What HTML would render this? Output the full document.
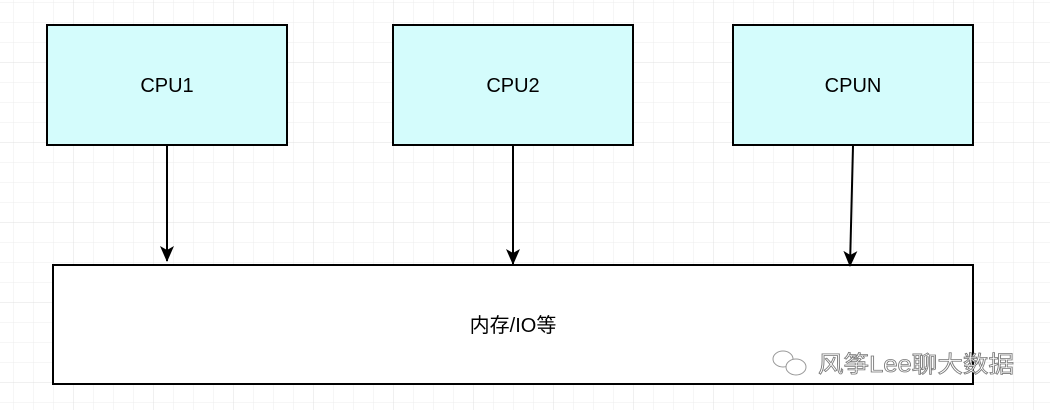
<!DOCTYPE html>
<html><head><meta charset="utf-8"><style>
html,body{margin:0;padding:0}
body{width:1050px;height:410px;overflow:hidden;background:#fff;font-family:"Liberation Sans","Noto Sans CJK SC",sans-serif}
</style></head><body>
<svg width="1050" height="410" xmlns="http://www.w3.org/2000/svg">
<defs>
<pattern id="g" x="13" y="2" width="20" height="20" patternUnits="userSpaceOnUse">
<path d="M0 0V20M0 0H20" stroke="#ececec" stroke-width="1" fill="none"/>
</pattern>
<pattern id="G" x="-7" y="-18" width="80" height="80" patternUnits="userSpaceOnUse">
<path d="M0 0V80M0 0H80" stroke="#e0e0e0" stroke-width="1" fill="none"/>
</pattern>
<marker id="a" markerWidth="16" markerHeight="16" refX="15" refY="8" orient="auto" markerUnits="userSpaceOnUse">
<path d="M0 1L16 8L0 15L4 8Z" fill="#000"/>
</marker>
</defs>
<rect width="1050" height="410" fill="url(#g)"/>
<rect width="1050" height="410" fill="url(#G)"/>
<g stroke="#000" stroke-width="2" fill="#d4fcfc">
<rect x="47" y="25" width="240" height="120"/>
<rect x="393" y="25" width="240" height="120"/>
<rect x="733" y="25" width="240" height="120"/>
<rect x="53" y="265" width="920" height="119" fill="#fff"/>
</g>
<g stroke="#000" stroke-width="2">
<line x1="167" y1="146" x2="167" y2="261" marker-end="url(#a)"/>
<line x1="513" y1="146" x2="513" y2="264" marker-end="url(#a)"/>
<line x1="853" y1="146" x2="850" y2="266" marker-end="url(#a)"/>
</g>
<g font-size="20" text-anchor="middle" fill="#000">
<text x="167" y="92">CPU1</text>
<text x="513" y="92">CPU2</text>
<text x="853" y="92">CPUN</text>
<text x="513" y="332">内存/IO等</text>
</g>
<g fill="#fff" stroke="#999" stroke-width="1">
<ellipse cx="783" cy="359" rx="10" ry="8"/>
<ellipse cx="796" cy="367" rx="10" ry="8"/>
</g>
<text x="818" y="372" font-size="23" fill="#fff" stroke="#777" stroke-width="0.8" textLength="196" lengthAdjust="spacingAndGlyphs">风筝Lee聊大数据</text>
</svg>
</body></html>
